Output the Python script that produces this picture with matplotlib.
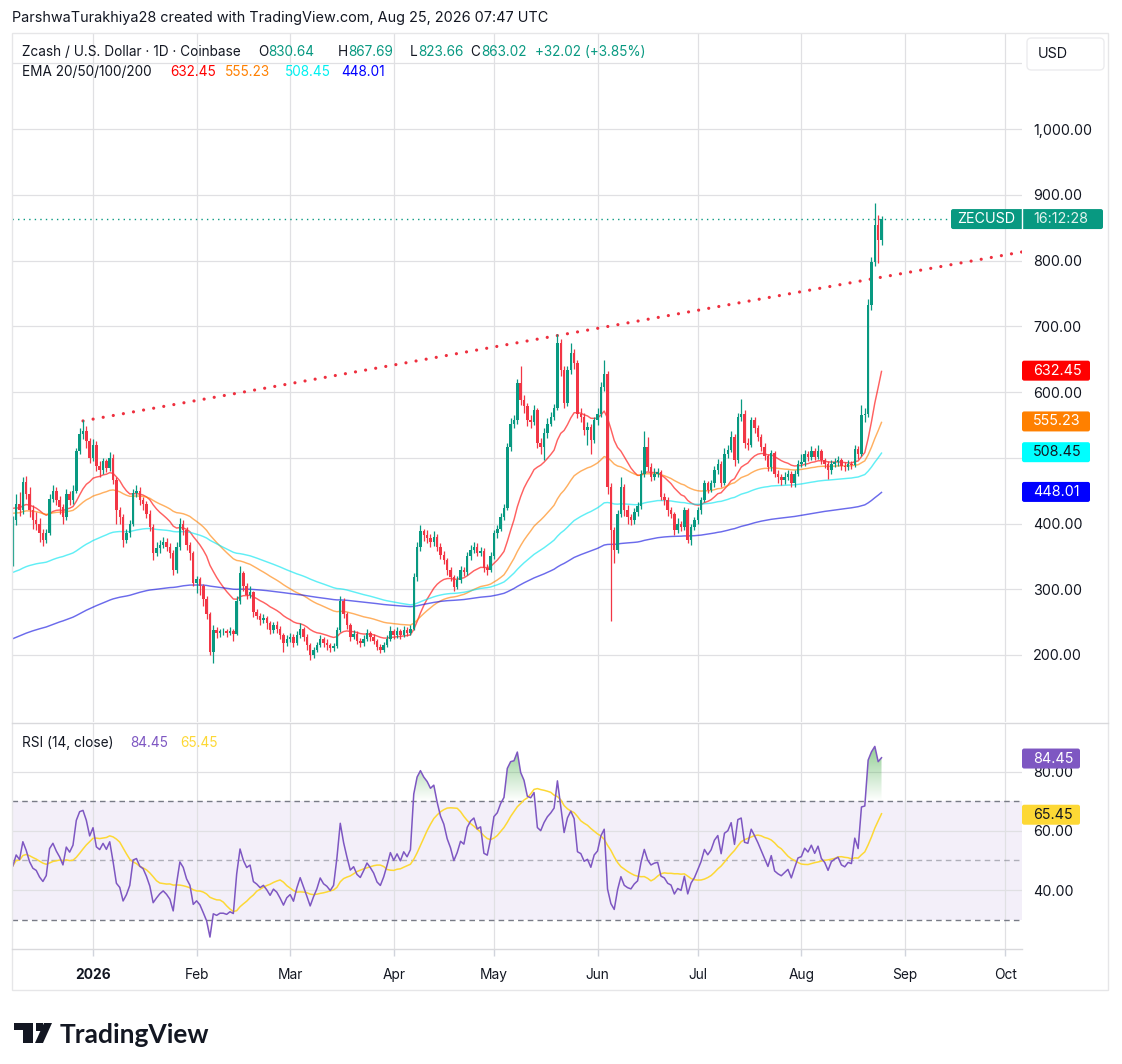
import numpy as np
import pandas as pd
import matplotlib
matplotlib.use("Agg")
import matplotlib.pyplot as plt
import matplotlib.dates as mdates
from matplotlib.patches import FancyBboxPatch, Polygon, Rectangle
from matplotlib.lines import Line2D
from matplotlib.path import Path
from matplotlib.colors import LinearSegmentedColormap

plt.rcParams['font.family'] = ['Inter', 'DejaVu Sans']

# ---- data (daily ZEC/USD) ----
start_date = "2025-12-08"
first_open = 345.0
close = [405, 430, 420, 463, 445, 420, 405, 400, 385, 375,
         385, 438, 450, 436, 425, 410, 445, 436, 450, 510,
         536, 540, 525, 500, 520, 487, 482, 495, 485, 500,
         466, 420, 410, 375, 385, 400, 447, 450, 435, 430,
         415, 395, 355, 362, 368, 372, 365, 355, 329, 365,
         400, 390, 368, 355, 310, 315, 305, 285, 262, 205,
         238, 233, 236, 236, 233, 236, 232, 282, 325, 305,
         292, 296, 265, 260, 253, 256, 248, 238, 245, 240,
         230, 218, 225, 228, 218, 230, 240, 228, 215, 200,
         208, 215, 225, 218, 215, 210, 214, 238, 282, 262,
         245, 228, 232, 222, 218, 225, 233, 228, 222, 212,
         208, 215, 225, 237, 230, 236, 230, 238, 234, 240,
         318, 365, 388, 382, 378, 372, 380, 365, 352, 344,
         329, 319, 304, 314, 329, 326, 350, 360, 365, 355,
         358, 332, 330, 350, 385, 392, 410, 423, 517, 552,
         557, 613, 588, 578, 557, 555, 572, 522, 517, 537,
         552, 562, 575, 674, 633, 583, 633, 659, 644, 567,
         562, 542, 547, 527, 557, 567, 608, 628, 456, 390,
         360, 415, 456, 420, 410, 405, 418, 426, 476, 517,
         486, 471, 476, 478, 440, 435, 420, 415, 390, 400,
         395, 420, 375, 395, 405, 420, 436, 461, 451, 461,
         481, 491, 461, 506, 512, 532, 496, 562, 567, 522,
         520, 557, 545, 532, 517, 502, 486, 507, 476, 470,
         466, 471, 476, 461, 476, 491, 493, 506, 501, 511,
         501, 511, 496, 491, 481, 491, 494, 496, 488, 486,
         490, 489, 514, 505, 565, 567, 732, 798, 854, 830.64,
         863.02]
high = [412, 445, 448, 470, 472, 455, 428, 418, 408, 392,
        392, 445, 458, 455, 442, 430, 452, 450, 458, 515,
        545, 557, 548, 530, 528, 525, 495, 500, 498, 508,
        505, 470, 425, 414, 392, 405, 452, 458, 455, 440,
        434, 420, 400, 372, 375, 380, 378, 370, 360, 372,
        408, 405, 394, 372, 358, 320, 318, 308, 290, 265,
        245, 242, 240, 241, 240, 242, 240, 290, 335, 328,
        310, 305, 298, 270, 264, 262, 260, 252, 250, 252,
        244, 234, 230, 233, 232, 236, 248, 243, 232, 218,
        212, 220, 230, 228, 224, 219, 218, 242, 290, 286,
        266, 248, 238, 236, 226, 230, 240, 237, 232, 225,
        216, 220, 230, 244, 240, 242, 240, 244, 242, 246,
        325, 372, 398, 392, 390, 384, 388, 384, 370, 358,
        348, 334, 322, 320, 336, 334, 356, 368, 372, 370,
        364, 362, 338, 356, 390, 398, 416, 430, 522, 560,
        565, 620, 640, 596, 584, 565, 580, 576, 530, 545,
        560, 570, 582, 688, 680, 640, 640, 675, 665, 648,
        575, 568, 555, 552, 562, 575, 615, 648, 632, 462,
        395, 420, 470, 460, 428, 415, 424, 432, 482, 540,
        532, 492, 484, 485, 482, 446, 440, 425, 418, 408,
        404, 425, 424, 400, 410, 425, 440, 466, 465, 466,
        487, 498, 495, 515, 520, 540, 536, 568, 590, 572,
        530, 562, 562, 550, 536, 522, 506, 512, 511, 482,
        475, 478, 482, 480, 482, 497, 505, 512, 510, 518,
        515, 520, 514, 500, 495, 496, 499, 502, 500, 494,
        496, 495, 520, 518, 580, 575, 742, 805, 887, 869,
        867.69]
low = [335, 398, 412, 415, 438, 410, 392, 390, 372, 366,
       370, 382, 432, 428, 415, 400, 405, 428, 430, 446,
       505, 528, 515, 492, 495, 480, 470, 476, 478, 480,
       460, 400, 400, 365, 370, 380, 396, 440, 428, 420,
       408, 388, 345, 350, 355, 362, 358, 348, 322, 325,
       360, 382, 360, 345, 305, 295, 292, 275, 255, 200,
       188, 226, 228, 230, 227, 230, 222, 230, 278, 298,
       285, 286, 258, 254, 246, 248, 240, 232, 234, 234,
       225, 205, 214, 220, 212, 215, 226, 222, 208, 193,
       196, 204, 212, 212, 208, 205, 206, 211, 235, 256,
       240, 222, 224, 217, 212, 214, 221, 222, 216, 207,
       203, 205, 212, 222, 224, 226, 224, 227, 229, 230,
       238, 312, 358, 374, 370, 365, 366, 358, 346, 338,
       322, 312, 298, 300, 310, 320, 322, 345, 355, 350,
       350, 326, 322, 326, 346, 378, 388, 405, 420, 510,
       545, 552, 580, 568, 548, 545, 550, 515, 505, 496,
       530, 548, 558, 572, 625, 575, 578, 628, 635, 560,
       555, 535, 520, 505, 522, 550, 562, 602, 445, 251,
       340, 355, 410, 412, 400, 398, 400, 412, 422, 470,
       480, 465, 466, 470, 435, 428, 412, 408, 382, 385,
       388, 390, 370, 368, 390, 400, 415, 432, 446, 448,
       456, 476, 455, 458, 500, 508, 488, 492, 556, 515,
       512, 516, 538, 526, 510, 496, 480, 480, 470, 462,
       458, 460, 466, 455, 456, 472, 486, 488, 495, 496,
       496, 498, 490, 485, 468, 476, 486, 488, 482, 480,
       481, 483, 486, 498, 502, 555, 562, 725, 792, 796,
       823.66]

ema_lengths = [20, 50, 100, 200]
ema_seeds = [425, 416, 324, 223]
ema_colors = ['#FF0000', '#FF8000', '#00E5F0', '#1010E0']
ema_last = [632.45, 555.23, 508.45, 448.01]
ema_label_text = ['#FFFFFF', '#FFFFFF', '#131722', '#FFFFFF']
ema_label_bg = ['#FF0000', '#FF8000', '#00FFFF', '#0000FF']

rsi_len = 14
rsi_seed_gain, rsi_seed_loss = 13.0, 14.0
rsi_last, rsi_ma_last = 84.45, 65.45

trend_dates = ["2025-12-29", "2026-10-06"]
trend_prices = [556, 813]

price_ticks = [200, 300, 400, 500, 600, 700, 800, 900, 1000, 1100]
hidden_price_labels = [500, 1100]   # covered by the cyan tag / USD box
rsi_ticks = [40, 60, 80]
month_starts = pd.date_range("2026-01-01", "2026-10-01", freq="MS")
month_labels = ['2026', 'Feb', 'Mar', 'Apr', 'May', 'Jun', 'Jul', 'Aug', 'Sep', 'Oct']

# ---- derived series ----
close = np.array(close, dtype=float)
high = np.array(high, dtype=float)
low = np.array(low, dtype=float)
opn = np.concatenate([[first_open], close[:-1]])
dates = pd.date_range(start_date, periods=len(close), freq="D")
xs = mdates.date2num(dates.values)


def ema(vals, length, seed):
    a = 2.0 / (length + 1)
    out = []
    e = seed
    for v in vals:
        e = e + a * (v - e)
        out.append(e)
    return np.array(out)


delta = np.diff(close, prepend=close[0])
ag, al = rsi_seed_gain, rsi_seed_loss
rsi = []
for d in delta:
    ag = (ag * (rsi_len - 1) + max(d, 0)) / rsi_len
    al = (al * (rsi_len - 1) + max(-d, 0)) / rsi_len
    rsi.append(100 - 100 / (1 + ag / al))
rsi = np.array(rsi)
rsi_ma = pd.Series(rsi).rolling(rsi_len, min_periods=1).mean().values

# ---- figure ----
W, H = 1122, 1064
fig = plt.figure(figsize=(W / 100, H / 100), dpi=100)
fig.patch.set_facecolor('white')


def fx(x):
    return x / W


def fy(y):
    return 1 - y / H


ax = fig.add_axes([fx(12), fy(722), (1022 - 12) / W, (722 - 33) / H])
axr = fig.add_axes([fx(12), fy(949), (1022 - 12) / W, (949 - 723) / H], sharex=ax)

x0 = mdates.date2num(np.datetime64(start_date)) - 0.25
x1 = x0 + 302.3
grid_c = '#e0e0e3'
txt_c = '#131722'
up_c, dn_c = '#089981', '#F23645'

# candles
is_up = close >= opn
cols = np.where(is_up, up_c, dn_c)
body_lo = np.minimum(opn, close)
body_h = np.maximum(np.abs(close - opn), 0.8)
ax.vlines(xs, low, high, colors=cols, lw=0.9, zorder=3)
ax.bar(xs, body_h, bottom=body_lo, width=0.74, color=cols, zorder=3.1, linewidth=0)

# EMAs
for L, s, c in zip(ema_lengths, ema_seeds, ema_colors):
    ax.plot(xs, ema(close, L, s), color=c, lw=1.05, alpha=0.62, zorder=2.5)

# trend line
tx = mdates.date2num(pd.to_datetime(trend_dates).values)
ax.plot(tx, trend_prices, color='#EE2F3E', lw=2.3, linestyle=(0, (0.01, 3.2)),
        dash_capstyle='round', zorder=2.6)

# current price dotted line
ax.axhline(close[-1], xmin=0, xmax=(951 - 12) / 1010, color=up_c, lw=1.0,
           linestyle=(0, (1, 3)), zorder=2.4)

ax.set_xlim(x0, x1)
ax.set_ylim(200 - (722 - 655) / 0.6575, 200 + (655 - 33) / 0.6575)
ax.set_yticks(price_ticks)
ax.set_yticklabels(['' if v in hidden_price_labels else f"{v:,.2f}" for v in price_ticks])
for t, v in zip(ax.get_yticklabels(), price_ticks):
    if v == 1000:
        t.set_fontweight('bold')
ax.yaxis.tick_right()
ax.tick_params(axis='y', length=0, pad=8, labelsize=10.3, labelcolor=txt_c)
ax.set_xticks(mdates.date2num(month_starts.values))
ax.tick_params(axis='x', length=0, labelbottom=False)
ax.grid(True, color=grid_c, lw=0.9)
ax.set_axisbelow(True)
for sp in ax.spines.values():
    sp.set_visible(False)

# ---- RSI pane ----
axr.axhspan(30, 70, color='#7E57C2', alpha=0.09, lw=0, zorder=0.5)
for lvl, a in [(70, 1.0), (30, 1.0), (50, 0.55)]:
    axr.axhline(lvl, color='#787B86', lw=1.0, alpha=a, linestyle=(0, (4, 3)), zorder=1)


def grad_fill(lo, hi, rgb, cond_above):
    if cond_above:
        poly = axr.fill_between(xs, lo, rsi, where=rsi >= lo, interpolate=True,
                                facecolor='none', edgecolor='none')
    else:
        poly = axr.fill_between(xs, hi, rsi, where=rsi <= hi, interpolate=True,
                                facecolor='none', edgecolor='none')
    paths = poly.get_paths()
    if not paths:
        return
    clip = Path.make_compound_path(*paths)
    if cond_above:
        cmap = LinearSegmentedColormap.from_list('g', [rgb + (0.0,), rgb + (0.6,)])
        ext = [xs[0], xs[-1], lo, lo + 18]
    else:
        cmap = LinearSegmentedColormap.from_list('r', [rgb + (0.4,), rgb + (0.0,)])
        ext = [xs[0], xs[-1], hi - 20, hi]
    g = np.linspace(0, 1, 256).reshape(-1, 1)
    im = axr.imshow(g, extent=ext, origin='lower', aspect='auto', cmap=cmap, zorder=1.2)
    im.set_clip_path(clip, transform=axr.transData)


grad_fill(70, 100, (0.30, 0.69, 0.31), True)
grad_fill(0, 30, (0.95, 0.21, 0.27), False)

axr.plot(xs, rsi_ma, color='#FDD835', lw=1.1, zorder=2)
axr.plot(xs, rsi, color='#7E57C2', lw=1.1, zorder=2.2)

axr.set_xlim(x0, x1)
axr.set_ylim(40 - (949 - 890) / 2.958, 80 + (771.7 - 723) / 2.958)
axr.set_yticks(rsi_ticks)
axr.set_yticklabels([f"{v:.2f}" for v in rsi_ticks])
axr.yaxis.tick_right()
axr.tick_params(axis='y', length=0, pad=8, labelsize=10.3, labelcolor=txt_c)
axr.set_xticks(mdates.date2num(month_starts.values))
axr.set_xticklabels(month_labels)
axr.get_xticklabels()[0].set_fontweight('bold')
axr.tick_params(axis='x', length=5, width=1, color='#d1d4dc', pad=9, labelsize=9.9, labelcolor=txt_c)
axr.grid(True, color=grid_c, lw=0.9)
axr.set_axisbelow(True)
for sp in axr.spines.values():
    sp.set_visible(False)

# ---- frame lines ----
fig.add_artist(Rectangle((fx(12), fy(990)), (1108 - 12) / W, (990 - 33) / H,
                         transform=fig.transFigure, fill=False, ec='#e6e6e8', lw=1))
fig.add_artist(Line2D([fx(12), fx(1108)], [fy(722.5), fy(722.5)], color='#d9d9dc', lw=1))
fig.add_artist(Line2D([fx(12), fx(1022)], [fy(949), fy(949)], color='#d9d9dc', lw=1))


# ---- axis tags ----
def ypix(a, v):
    return H - a.transData.transform((a.get_xlim()[0], v))[1]


def tag(a, v, text, fc, tc, left=1022, right=1090, h=20, tx=1033):
    yc = ypix(a, v)
    fig.add_artist(FancyBboxPatch((fx(left), fy(yc + h / 2)), (right - left) / W, h / H,
                                  boxstyle='round,pad=0,rounding_size=0.002',
                                  transform=fig.transFigure, fc=fc, ec='none', zorder=10))
    fig.text(fx(tx), fy(yc), text, color=tc, fontsize=10.3, va='center', ha='left', zorder=11)


for v, bg, tc in zip(ema_last, ema_label_bg, ema_label_text):
    tag(ax, v, f"{v:.2f}", bg, tc)
tag(axr, rsi_last, f"{rsi_last:.2f}", '#7E57C2', '#FFFFFF', right=1080)
tag(axr, rsi_ma_last, f"{rsi_ma_last:.2f}", '#FDD835', txt_c, right=1080)

# ZECUSD price tag
yc = ypix(ax, close[-1])
fig.add_artist(FancyBboxPatch((fx(951), fy(yc + 10)), (1103 - 951) / W, 20 / H,
                              boxstyle='round,pad=0,rounding_size=0.002',
                              transform=fig.transFigure, fc=up_c, ec='none', zorder=10))
fig.add_artist(Line2D([fx(1022), fx(1022)], [fy(yc + 10), fy(yc - 10)], color='white', lw=1, zorder=10.5))
fig.text(fx(957), fy(yc), "ZECUSD", color='white', fontsize=10.3, va='center', zorder=11)
fig.text(fx(1033), fy(yc), "16:12:28", color='#e3f3ef', fontsize=10.3, va='center', zorder=11)

# USD box
fig.add_artist(FancyBboxPatch((fx(1027), fy(70)), (1104 - 1027) / W, 32 / H,
                              boxstyle='round,pad=0,rounding_size=0.004',
                              transform=fig.transFigure, fc='white', ec='#ececee', lw=1, zorder=10))
fig.text(fx(1038), fy(54), "USD", color=txt_c, fontsize=10.3, va='center', zorder=11)

# ---- header and legends ----
fig.text(fx(12), fy(18), "ParshwaTurakhiya28 created with TradingView.com, Aug 25, 2026 07:47 UTC",
         color=txt_c, fontsize=10.4, va='center')

leg1 = [("Zcash / U.S. Dollar · 1D · Coinbase", 22, txt_c),
        ("O", 258, txt_c), ("830.64", 268, up_c),
        ("H", 338, txt_c), ("867.69", 348, up_c),
        ("L", 410, txt_c), ("823.66", 418, up_c),
        ("C", 470, txt_c), ("863.02", 481, up_c),
        ("+32.02 (+3.85%)", 535, up_c)]
for s, xp, c in leg1:
    fig.text(fx(xp), fy(52), s, color=c, fontsize=9.8, va='center')

leg2 = [("EMA 20/50/100/200", 22, txt_c), ("632.45", 170, '#FF0000'),
        ("555.23", 225, '#FF8000'), ("508.45", 285, '#00F0F0'), ("448.01", 341, '#0000FF')]
for s, xp, c in leg2:
    fig.text(fx(xp), fy(72), s, color=c, fontsize=9.8, va='center')

leg3 = [("RSI (14, close)", 22, txt_c), ("84.45", 130, '#7E57C2'), ("65.45", 180, '#FDD835')]
for s, xp, c in leg3:
    fig.text(fx(xp), fy(743), s, color=c, fontsize=9.8, va='center')

# ---- TradingView logo ----
logo_t = [(14, 1023), (33, 1023), (33, 1043), (23, 1043), (23, 1030), (14, 1030)]
fig.add_artist(Polygon([(fx(a), fy(b)) for a, b in logo_t], closed=True,
                       transform=fig.transFigure, fc='#131722', ec='none'))
logo_v = [(44, 1023), (52, 1023), (43, 1043), (35, 1043)]
fig.add_artist(Polygon([(fx(a), fy(b)) for a, b in logo_v], closed=True,
                       transform=fig.transFigure, fc='#131722', ec='none'))
fig.add_artist(Rectangle((fx(35.5), fy(1030.5)), 7 / W, 7.5 / H, transform=fig.transFigure,
                         fc='#131722', ec='none'))
fig.text(fx(60), fy(1043), "TradingView", color='#131722', fontsize=19, fontweight='bold',
         family=['Lato', 'DejaVu Sans'], va='baseline', ha='left')

fig.savefig("out.png", dpi=100, facecolor='white')
